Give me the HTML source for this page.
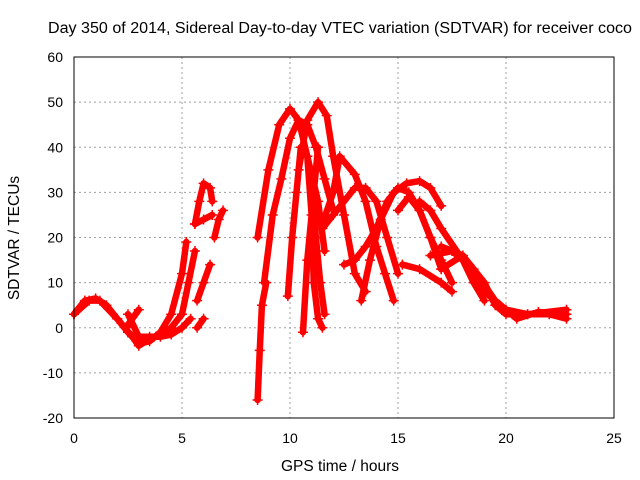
<!DOCTYPE html>
<html><head><meta charset="utf-8"><style>
body{margin:0;background:#fff}
svg{display:block;font-family:"Liberation Sans",sans-serif}
</style></head><body>
<svg id="c" width="640" height="480" xmlns="http://www.w3.org/2000/svg">
<text x="340" y="33" text-anchor="middle" font-size="15.5" textLength="584" lengthAdjust="spacingAndGlyphs">Day 350 of 2014, Sidereal Day-to-day VTEC variation (SDTVAR) for receiver coco</text>
<text x="340" y="471" text-anchor="middle" font-size="15.5">GPS time / hours</text>
<text transform="translate(19,238) rotate(-90)" text-anchor="middle" font-size="15.5">SDTVAR / TECUs</text>
<g id="grid"></g><g id="ticks"></g><g id="marks"></g>
<rect x="74" y="57" width="540" height="361" fill="none" stroke="#000" stroke-width="1"/>
</svg>
<script>
const xTicks=[0,5,10,15,20,25];
const yTicks=[-20,-10,0,10,20,30,40,50,60];
const seriesT=[
[0,0.5,1,1.5,2,2.5,3,3.5,4,4.5,5,5.2],
[0,0.7,1.2,2,2.7,3,3.5,4,4.5,5,5.3,5.6],
[2.5,3,3.5,4,4.5,5,5.4],
[2.4,3],
[5.7,6],
[5.7,6,6.3],
[5.6,5.8,6,6.3,6.4],
[5.6,6,6.4],
[6.5,6.7,6.9],
[8.5,8.6,8.7,8.9],
[8.5,9,9.5,10,10.4,10.8,11.3,11.6],
[8.8,9.2,9.6,10,10.4,10.8,11.2,11.6,12],
[9.9,10.1,10.3,10.5,10.8,11,11.1,11.3,11.5],
[10.4,10.8,11.3,11.7,12,12.5,13,13.5],
[10.6,10.8,11.1,11.3],
[11,11.2,11.4,11.6],
[11.5,12,12.3,13,13.5,14,14.4,14.8],
[11.5,12,13,13.5,14,14.5,15],
[12.5,13,13.5,14,14.5,15,15.5,16,16.5,17],
[13.3,13.7,14.2,14.8,15.4,16,16.5,17],
[15.2,16,17,17.5],
[15,15.5,16,16.5,17,17.5],
[16,16.5,17,18,18.5,19],
[17,18,19,19.5,20,21,22,22.8],
[16.5,17.5,18.5,19.5,20.5,21.5,22.8],
[17,18,19,20,21,22.8]
];
const seriesV=[
[3,6,6.5,5,2,-1,-3.5,-3,-1,3,12,19],
[3,6,6,2,-2,-4,-2.5,-1.5,0,3,10,17],
[3,-2,-2,-2,-1.5,0,2],
[0,4],
[0,2],
[6,10,14],
[23,28,32,31,28],
[23,24,25],
[20,24,26],
[-16,-5,5,10],
[20,35,45,48.5,46,38,28,17],
[10,25,33,42,46,45,40,33,26],
[7,20,30,40,38,25,10,2,0],
[35,46,50,47,38,25,12,8],
[-1,15,30,40],
[30,20,10,3],
[23,30,38,34,28,18,12,6],
[22,25,31,31,28,20,12],
[14,15,18,22,28,31,30,26,20,13],
[6,15,24,30,32,32.5,31,27],
[14,13,10,8],
[26,29,26,20,15,10],
[28,26,22,15,10,6],
[13,16,10,5,3,3,3,2],
[16,17,13,6,2,3.5,3],
[18,16,8,4,3,4]
];
const X=t=>74+t*21.6, Y=v=>418-(v+20)*4.5125;
const NS="http://www.w3.org/2000/svg";
const g=document.getElementById('grid'),tk=document.getElementById('ticks'),mk=document.getElementById('marks');
function el(n,a,p){const e=document.createElementNS(NS,n);for(const k in a)e.setAttribute(k,a[k]);p.appendChild(e);return e;}
xTicks.forEach(t=>{
 const l=el('line',{x1:X(t),x2:X(t),y1:57,y2:418,stroke:'#a0a0a0','stroke-dasharray':'2,3'},g);
 
 
 const s=el('text',{x:X(t),y:443,'text-anchor':'middle','font-size':'14'},tk);
 
 
 s.textContent=t;
});
yTicks.forEach(v=>{
 const l=el('line',{x1:74,x2:614,y1:Y(v),y2:Y(v),stroke:'#a0a0a0','stroke-dasharray':'2,3'},g);
 
 
 const s=el('text',{x:63,y:Y(v)+5,'text-anchor':'end','font-size':'14'},tk);
 
 
 s.textContent=v;
});
seriesT.forEach((ts,i)=>{
 const vs=seriesV[i];
 const pts=ts.map((t,j)=>X(t)+','+Y(vs[j])).join(' ');
 const p=el('polyline',{points:pts,fill:'none',stroke:'#ff0000','stroke-width':6.5,'stroke-linejoin':'round','stroke-linecap':'round'},mk);
 
 
 ts.forEach((t,j)=>{
  const x=X(t),y=Y(vs[j]);
  const m=el('path',{d:`M${x-5},${y}h10M${x},${y-5}v10`,stroke:'#ff0000','stroke-width':1.5},mk);
  
  
 });
});
</script>
</body></html>
